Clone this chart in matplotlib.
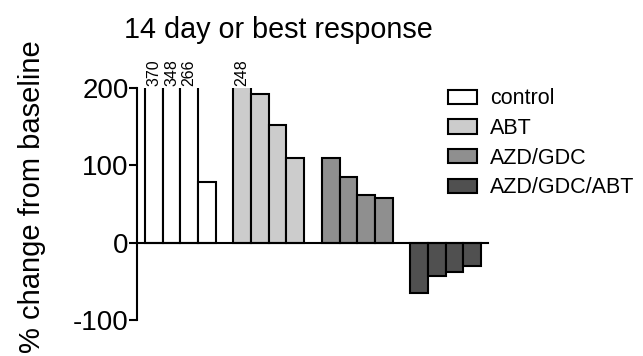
import matplotlib
matplotlib.use('Agg')
import matplotlib.pyplot as plt
import numpy as np

plt.rcParams['font.family'] = ['Liberation Sans', 'DejaVu Sans']
plt.rcParams['axes.unicode_minus'] = False

groups = ['control', 'ABT', 'AZD/GDC', 'AZD/GDC/ABT']
values = [
    [370, 348, 266, 78],
    [248, 192, 152, 110],
    [110, 85, 61, 58],
    [-65, -43, -38, -30],
]
colors = ['#ffffff', '#cccccc', '#8f8f8f', '#505050']
label_cut = 200  # bars taller than this are clipped and labelled

fig = plt.figure(figsize=(6.43, 3.56), dpi=100)
ax = fig.add_axes([0.213, 0.101, 0.549, 0.652])

pos = 0
for name, vals, col in zip(groups, values, colors):
    x = np.arange(len(vals)) + pos
    ax.bar(x, vals, width=1.0, align='edge', color=col, edgecolor='black',
           linewidth=1.5, label=name)
    for xi, v in zip(x, vals):
        if v > label_cut:
            ax.text(xi + 0.5, label_cut + 3, str(v), rotation=90, ha='center',
                    va='bottom', fontsize=11.5, clip_on=False)
    pos += len(vals) + 1

ax.set_xlim(-0.45, 19.5)
ax.set_ylim(-100, 200)
ax.plot([-0.45, 19.4], [0, 0], color='black', linewidth=1.5, clip_on=False)

for s in ['top', 'right', 'bottom']:
    ax.spines[s].set_visible(False)
ax.spines['left'].set_linewidth(1.5)
ax.spines['left'].set_bounds(-100, 200)
ax.set_xticks([])
ax.set_yticks([-100, 0, 100, 200])
ax.tick_params(axis='y', labelsize=20, width=1.5, length=6, pad=0)
ax.set_ylabel('% change from baseline', fontsize=21)
ax.yaxis.set_label_coords(-0.258, 0.53)
ax.set_title('14 day or best response', fontsize=20.7, pad=36, x=0.4)

leg = ax.legend(loc='upper left', bbox_to_anchor=(0.857, 1.035), frameon=False,
                fontsize=15.5, handlelength=1.35, handleheight=0.65,
                labelspacing=0.4, handletextpad=0.6, borderaxespad=0.0)

fig.savefig('out.png', dpi=100)
